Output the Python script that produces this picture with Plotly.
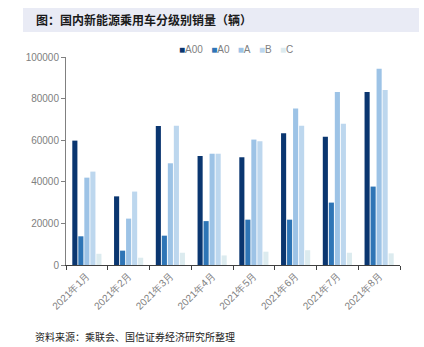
import plotly.graph_objects as go

months = ["2021年1月", "2021年2月", "2021年3月", "2021年4月", "2021年5月", "2021年6月", "2021年7月", "2021年8月"]
a00 = [59800, 33000, 66800, 52400, 51800, 63300, 61700, 83200]
a0 = [13800, 6900, 14100, 21100, 21800, 21800, 30000, 37700]
a = [42000, 22300, 48900, 53500, 60300, 75200, 83200, 94400]
b = [44900, 35300, 67000, 53500, 59500, 67000, 67900, 84100]
c = [5400, 3500, 5900, 4600, 6400, 7100, 5900, 5600]

series = [("A00", a00, "#0a3670"), ("A0", a0, "#2e75b6"), ("A", a, "#9dc3e6"),
          ("B", b, "#bdd7ee"), ("C", c, "#dcebef")]

W, H = 424, 347
L, R, T, B = 66, 24, 57, 82
PW, PH = W - L - R, H - T - B

def px(x):
    return (x - L) / PW

def py(y):
    return (H - B - y) / PH

fig = go.Figure()
for name, vals, col in series:
    fig.add_trace(go.Bar(x=months, y=vals, name=name, showlegend=False,
                         marker=dict(color=col, line=dict(width=0))))

legend_text = "&nbsp;&nbsp;&nbsp;".join(
    f"<span style='color:{col}'>■</span>{name}" for name, _, col in series)

fig.update_layout(
    width=W, height=H, barmode="group", bargap=0.28, bargroupgap=0.15,
    margin=dict(l=L, r=R, t=T, b=B),
    plot_bgcolor="white", paper_bgcolor="white",
    font=dict(family="Liberation Sans, Arial", size=10, color="#7f7f7f"),
    xaxis=dict(showline=True, linecolor="#404040", linewidth=1, ticks="outside", tickson="boundaries",
               ticklen=4, tickcolor="#404040", tickangle=-45, tickfont=dict(size=10, color="#808080")),
    yaxis=dict(range=[0, 100000], dtick=20000, tickformat="d", showgrid=False, showline=True,
               linecolor="#808080", ticks="outside", ticklen=4, tickcolor="#808080", zeroline=False,
               tickfont=dict(size=10, color="#808080")),
    shapes=[dict(type="rect", xref="paper", yref="paper",
                 x0=px(23), x1=px(419), y0=py(32), y1=py(8),
                 fillcolor="#e9ebf5", line=dict(width=0), layer="below")],
    annotations=[
        dict(text="<b>图：国内新能源乘用车分级别销量（辆）</b>", xref="paper", yref="paper",
             x=px(34), y=py(20), xanchor="left", yanchor="middle",
             showarrow=False, font=dict(family="Noto Sans CJK SC", size=12, color="#1a1a1a")),
        dict(text=legend_text, xref="paper", yref="paper",
             x=px(177), y=py(50), xanchor="left", yanchor="middle",
             showarrow=False, font=dict(family="Liberation Sans, Arial", size=10, color="#7f7f7f")),
        dict(text="资料来源：乘联会、国信证券经济研究所整理", xref="paper", yref="paper",
             x=px(33), y=py(336), xanchor="left", yanchor="middle",
             showarrow=False, font=dict(family="Noto Sans CJK SC", size=10, color="#222222")),
    ],
)

fig.write_html("out.html")
